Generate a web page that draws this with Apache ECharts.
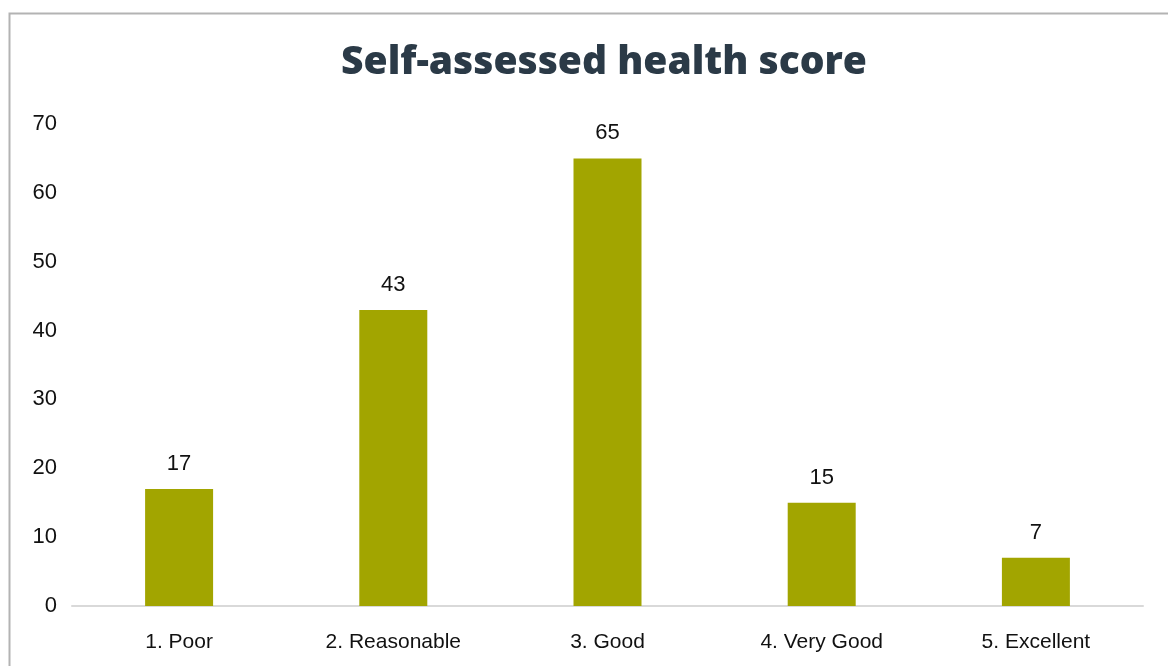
<!DOCTYPE html>
<html>
<head>
<meta charset="utf-8">
<script src="https://cdn.jsdelivr.net/npm/echarts@6/dist/echarts.min.js"></script>
<style>
html,body{margin:0;padding:0;background:#fff;}
#chart{width:1168px;height:666px;}
</style>
</head>
<body>
<div id="chart"></div>
<script>
const categories = ['1. Poor', '2. Reasonable', '3. Good', '4. Very Good', '5. Excellent'];
const values = [17, 43, 65, 15, 7];
const yTicks = [0, 10, 20, 30, 40, 50, 60, 70];

const chart = echarts.init(document.getElementById('chart'));
chart.setOption({
  animation: false,
  title: {
    text: 'Self-assessed health score',
    left: 599, top: 38, textAlign: 'center',
    textStyle: { fontFamily: 'Open Sans', fontWeight: 800, fontSize: 39, color: '#2b3a47' }
  },
  graphic: [{
    type: 'rect', silent: true, z: -1,
    shape: { x: 9.5, y: 13.5, width: 1300, height: 800 },
    style: { fill: 'none', stroke: '#b3b3b3', lineWidth: 2 }
  }],
  grid: { left: 72, right: 25, top: 124, bottom: 60, containLabel: false },
  xAxis: {
    type: 'category', data: categories,
    axisLine: { lineStyle: { color: '#d9d9d9', width: 2 } },
    axisTick: { show: false },
    axisLabel: { color: '#111', fontSize: 21, fontFamily: 'Liberation Sans', margin: 26 }
  },
  yAxis: {
    type: 'value', min: yTicks[0], max: yTicks[yTicks.length - 1], interval: 10,
    splitLine: { show: false },
    axisLine: { show: false }, axisTick: { show: false },
    axisLabel: { color: '#111', fontSize: 22, fontFamily: 'Liberation Sans', margin: 15 }
  },
  series: [{
    type: 'bar', data: values, barWidth: 68,
    itemStyle: { color: '#a2a500' },
    label: { show: true, position: 'top', distance: 14, color: '#111', fontSize: 22, fontFamily: 'Liberation Sans' }
  }]
});
</script>
</body>
</html>
